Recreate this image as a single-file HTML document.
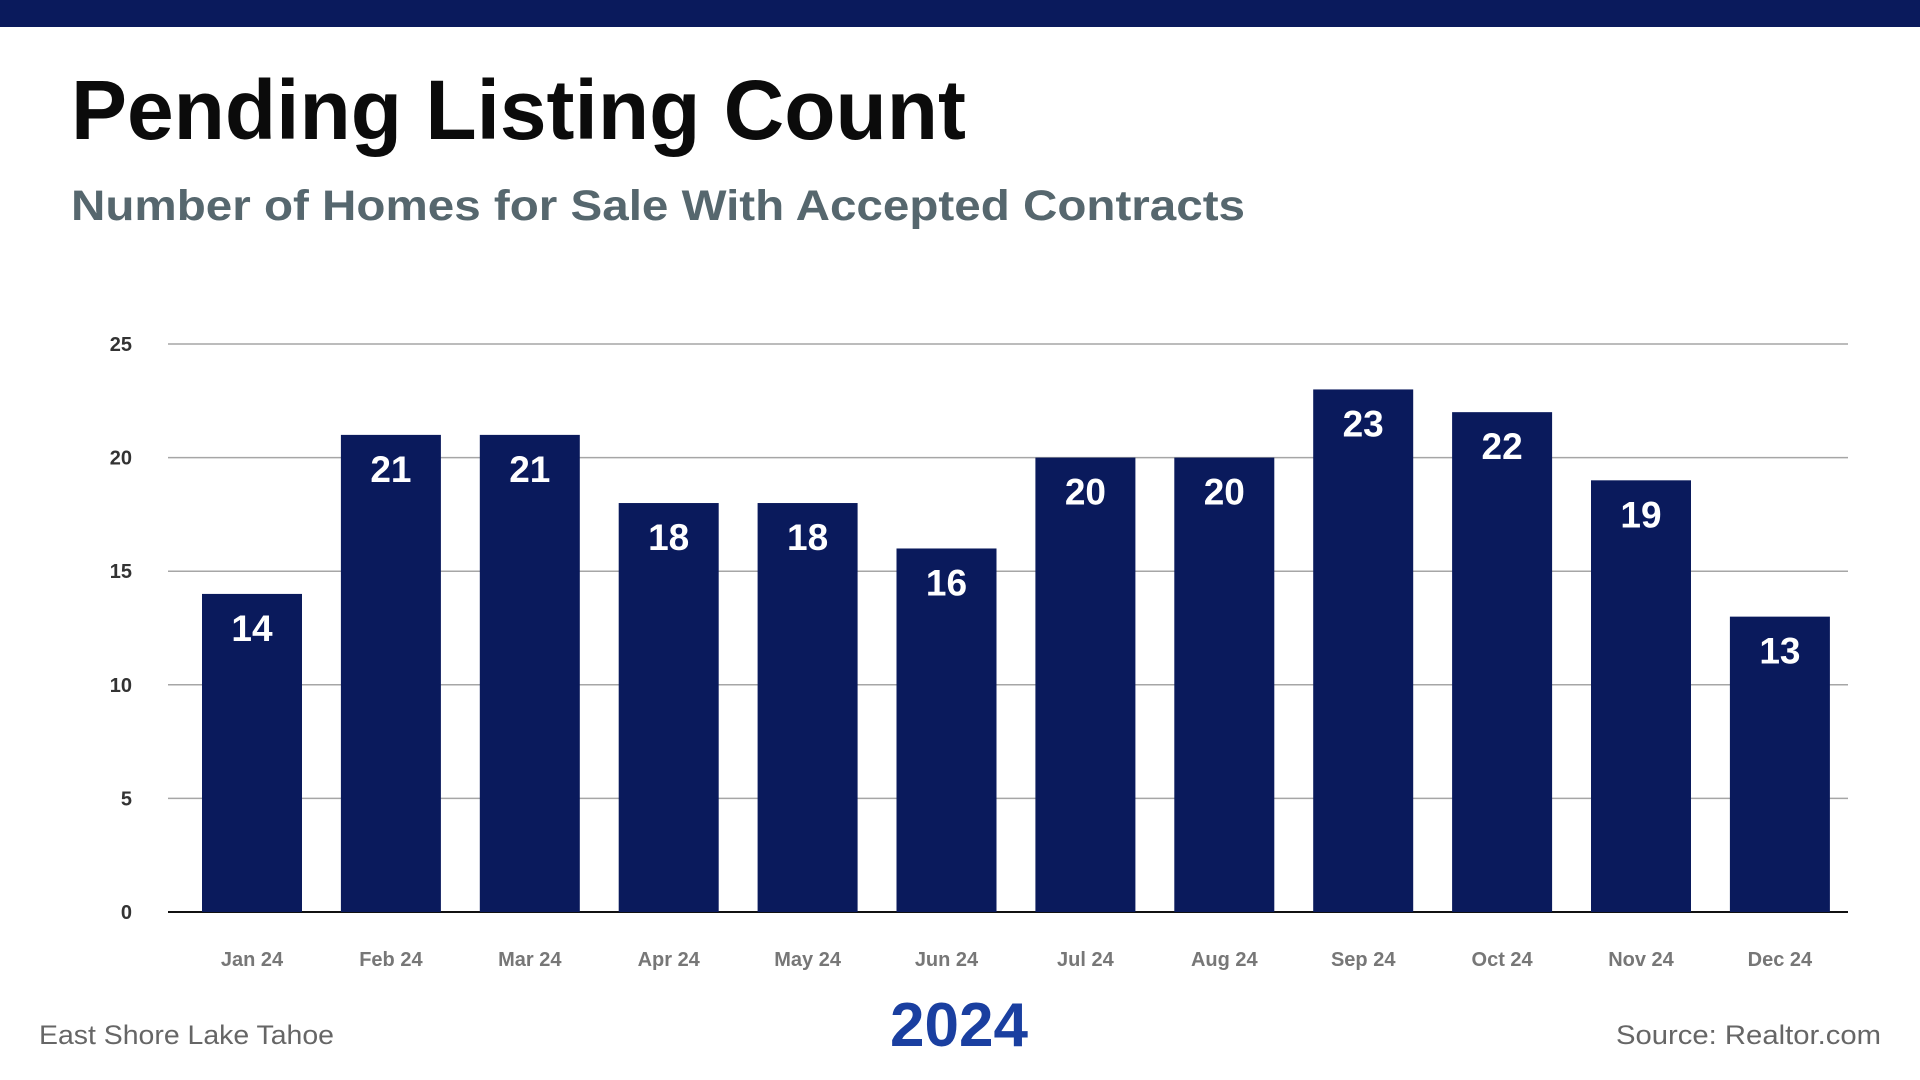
<!DOCTYPE html>
<html><head><meta charset="utf-8"><style>
html,body{margin:0;padding:0;background:#fff;}
svg{display:block;font-family:"Liberation Sans",Arial,sans-serif;}
</style></head><body>
<svg id="chart" width="1920" height="1080" viewBox="0 0 1920 1080">
<rect x="0" y="0" width="1920" height="27" fill="#0a1a5c"/>
<text x="71" y="139" font-size="84" font-weight="bold" fill="#0b0b0b" textLength="895" lengthAdjust="spacingAndGlyphs">Pending Listing Count</text>
<text x="71" y="220" font-size="43" font-weight="bold" fill="#56676e" textLength="1174" lengthAdjust="spacingAndGlyphs">Number of Homes for Sale With Accepted Contracts</text>
<g id="grid"></g><g id="bars"></g><g id="xlabels"></g>
<text x="39" y="1044" font-size="27" fill="#666" textLength="295" lengthAdjust="spacingAndGlyphs">East Shore Lake Tahoe</text>
<text x="959" y="1046" font-size="62" font-weight="bold" fill="#1a3fa0" text-anchor="middle">2024</text>
<text x="1881" y="1044" font-size="27" fill="#666" text-anchor="end" textLength="265" lengthAdjust="spacingAndGlyphs">Source: Realtor.com</text>
</svg>
<script>
const categories = ["Jan 24","Feb 24","Mar 24","Apr 24","May 24","Jun 24","Jul 24","Aug 24","Sep 24","Oct 24","Nov 24","Dec 24"];
const values = [14,21,21,18,18,16,20,20,23,22,19,13];
const yTicks = [0,5,10,15,20,25];
const NS="http://www.w3.org/2000/svg";
const plotL=168, plotR=1848, y0=912, yTop=344, yMax=25;
const step=138.9, barW=100, firstX=202;
function y(v){return y0-(v/yMax)*(y0-yTop);}
function x(i){return firstX+i*step;}
function mk(tag,attrs,parent){const e=document.createElementNS(NS,tag);for(const k in attrs)e.setAttribute(k,attrs[k]);parent.appendChild(e);return e;}
const grid=document.getElementById('grid'),bars=document.getElementById('bars'),xl=document.getElementById('xlabels');
yTicks.forEach(t=>{
  if(t>0){const l=mk('line',{x1:plotL,x2:plotR,y1:y(t),y2:y(t),stroke:'#a6a6a6','stroke-width':1.5},grid);
  
  }
  const tx=mk('text',{x:132,y:y(t)+7,'font-size':20,'font-weight':'bold',fill:'#333','text-anchor':'end'},grid);
  tx.textContent=t;
  
  
});
values.forEach((v,i)=>{
  const r=mk('rect',{x:x(i),y:y(v),width:barW,height:y0-y(v),fill:'#0a1a5c'},bars);
  
  
  const t=mk('text',{x:x(i)+barW/2,y:y(v)+47,'font-size':37,'font-weight':'bold',fill:'#fff','text-anchor':'middle'},bars);
  t.textContent=v;
  
  
  const c=mk('text',{x:x(i)+barW/2,y:966,'font-size':20,'font-weight':'bold',fill:'#777','text-anchor':'middle'},xl);
  c.textContent=categories[i];
  
  
});
const ax=mk('line',{x1:plotL,x2:plotR,y1:y0,y2:y0,stroke:'#111','stroke-width':2},grid);


</script>
</body></html>
